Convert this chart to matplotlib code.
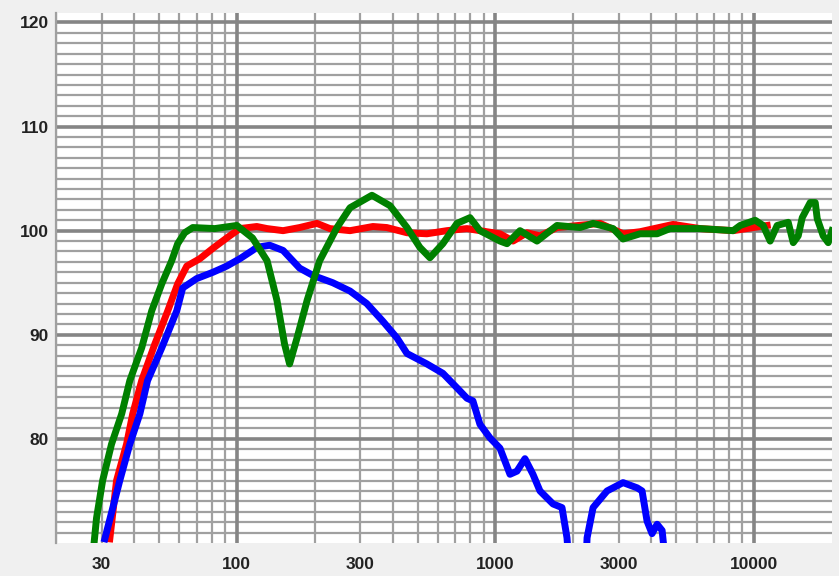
import numpy as np
import matplotlib
matplotlib.use("Agg")
import matplotlib.pyplot as plt
from matplotlib.ticker import FixedLocator, NullFormatter

# frequency response curves (Hz, dB)
red_freq = [32.3, 34.3, 37.5, 39.6, 42.9, 48.2, 54.1, 59.1, 64.1, 71.9, 80.8, 91.5,
            102.7, 119.5, 131, 151, 175, 204, 229, 274, 336, 380, 455, 543, 649,
            776, 871, 1041, 1169, 1324, 1486, 1729, 2537, 3113, 3622, 4860, 6180,
            8300, 11230]
red_db = [70.4, 76.0, 79.5, 82.4, 85.6, 89.1, 92.3, 94.9, 96.6, 97.3, 98.3, 99.3,
          100.2, 100.4, 100.2, 100.0, 100.3, 100.7, 100.2, 100.0, 100.4, 100.3,
          99.8, 99.7, 100.0, 100.2, 100.0, 99.7, 99.0, 99.8, 99.5, 100.3, 100.7,
          99.7, 99.9, 100.6, 100.2, 100.0, 100.5]

blue_freq = [30.9, 35.3, 38.6, 42.2, 45.2, 51.3, 58.6, 61.8, 70.0, 80.8, 91.5,
             102.7, 115, 119.5, 134, 151, 175, 197, 235, 274, 318, 367, 416, 455,
             543, 626, 710, 776, 818, 871, 952, 1041, 1138, 1211, 1300, 1396,
             1486, 1669, 1808, 1890, 1950, 2220, 2260, 2384, 2700, 3113, 3527,
             3687, 3855, 4030, 4215, 4408, 4500]
blue_db = [70.4, 76.0, 79.5, 82.4, 85.6, 88.75, 92.3, 94.5, 95.4, 96.0, 96.6,
           97.3, 98.1, 98.4, 98.6, 98.1, 96.4, 95.7, 95.0, 94.2, 93.0, 91.3, 89.7,
           88.2, 87.2, 86.3, 84.9, 83.9, 83.65, 81.4, 80.1, 79.1, 76.6, 76.9, 78.1,
           76.6, 75.0, 73.75, 73.4, 70.5, 66.0, 66.0, 70.5, 73.4, 75.0, 75.8, 75.3,
           75.0, 72.1, 70.9, 71.8, 71.2, 69.0]

green_freq = [28.0, 28.7, 30.3, 32.8, 35.9, 38.6, 42.9, 46.9, 51.3, 56.0, 59.1,
              62.9, 67.6, 82.2, 100, 115, 131, 143, 153, 160, 171, 187, 209, 244,
              274, 333, 391, 455, 510, 558, 626, 710, 797, 871, 1041, 1108, 1244,
              1447, 1729, 2123, 2384, 2848, 3113, 3622, 4215, 4732, 6180, 8295,
              8830, 10090, 10830, 11530, 12270, 13540, 14160, 14800, 15340, 16470,
              17220, 17530, 18490, 19330, 20000]
green_db = [69.7, 72.4, 76.0, 79.5, 82.4, 85.6, 88.75, 92.3, 94.9, 97.1, 98.75,
            99.8, 100.3, 100.2, 100.5, 99.3, 97.1, 93.3, 89.1, 87.2, 89.7, 93.3,
            97.1, 100.3, 102.2, 103.4, 102.4, 100.3, 98.4, 97.4, 98.75, 100.7,
            101.25, 100.0, 99.0, 98.75, 100.0, 99.0, 100.5, 100.3, 100.7, 100.2,
            99.2, 99.7, 99.7, 100.2, 100.2, 100.0, 100.5, 101.0, 100.5, 99.0,
            100.5, 100.8, 98.85, 99.5, 101.25, 102.7, 102.7, 101.15, 99.5, 98.85,
            100.0]

x_ticks = [30, 100, 300, 1000, 3000, 10000]
y_ticks = [80, 90, 100, 110, 120]

fig = plt.figure(figsize=(8.39, 5.76), dpi=100, facecolor="#f0f0f0")
ax = fig.add_axes([0.0667, 0.0573, 0.925, 0.920])
ax.set_facecolor("white")
ax.set_xscale("log")
ax.set_xlim(20, 20000)
ax.set_ylim(70, 120.9)

# grid: decades / 10 dB thick, the rest thin
x_major = [100, 1000, 10000]
x_minor = [m * d for d in (10, 100, 1000, 10000) for m in range(2, 10) if 20 <= m * d <= 19000]
y_minor = [v for v in range(71, 121) if v % 10 != 0]
for v in x_minor:
    ax.axvline(v, color="#a0a0a0", lw=1.6, zorder=1)
for v in y_minor:
    ax.axhline(v, color="#a0a0a0", lw=1.6, zorder=1)
for v in x_major:
    ax.axvline(v, color="#858585", lw=2.6, zorder=1.5)
for v in y_ticks:
    ax.axhline(v, color="#858585", lw=2.6, zorder=1.5)

ax.plot(red_freq, red_db, color="#ff0000", lw=5.0, zorder=3)
ax.plot(blue_freq, blue_db, color="#0000ff", lw=5.0, zorder=4)
ax.plot(green_freq, green_db, color="#008000", lw=5.0, zorder=5)

ax.xaxis.set_major_locator(FixedLocator(x_ticks))
ax.xaxis.set_minor_locator(FixedLocator([]))
ax.xaxis.set_minor_formatter(NullFormatter())
ax.set_xticklabels([str(t) for t in x_ticks])
ax.yaxis.set_major_locator(FixedLocator(y_ticks))
ax.set_yticklabels([str(t) for t in y_ticks])
ax.tick_params(axis="both", length=0, labelsize=12.5, labelcolor="#222222")
ax.tick_params(axis="x", pad=10)
ax.tick_params(axis="y", pad=5)
for lab in ax.get_xticklabels() + ax.get_yticklabels():
    lab.set_fontfamily("Liberation Sans")
    lab.set_fontweight("bold")

for side in ("top", "right", "bottom"):
    ax.spines[side].set_visible(False)
ax.spines["left"].set_color("#a0a0a0")
ax.spines["left"].set_linewidth(1.6)

fig.savefig("out.png", dpi=100, facecolor=fig.get_facecolor())
